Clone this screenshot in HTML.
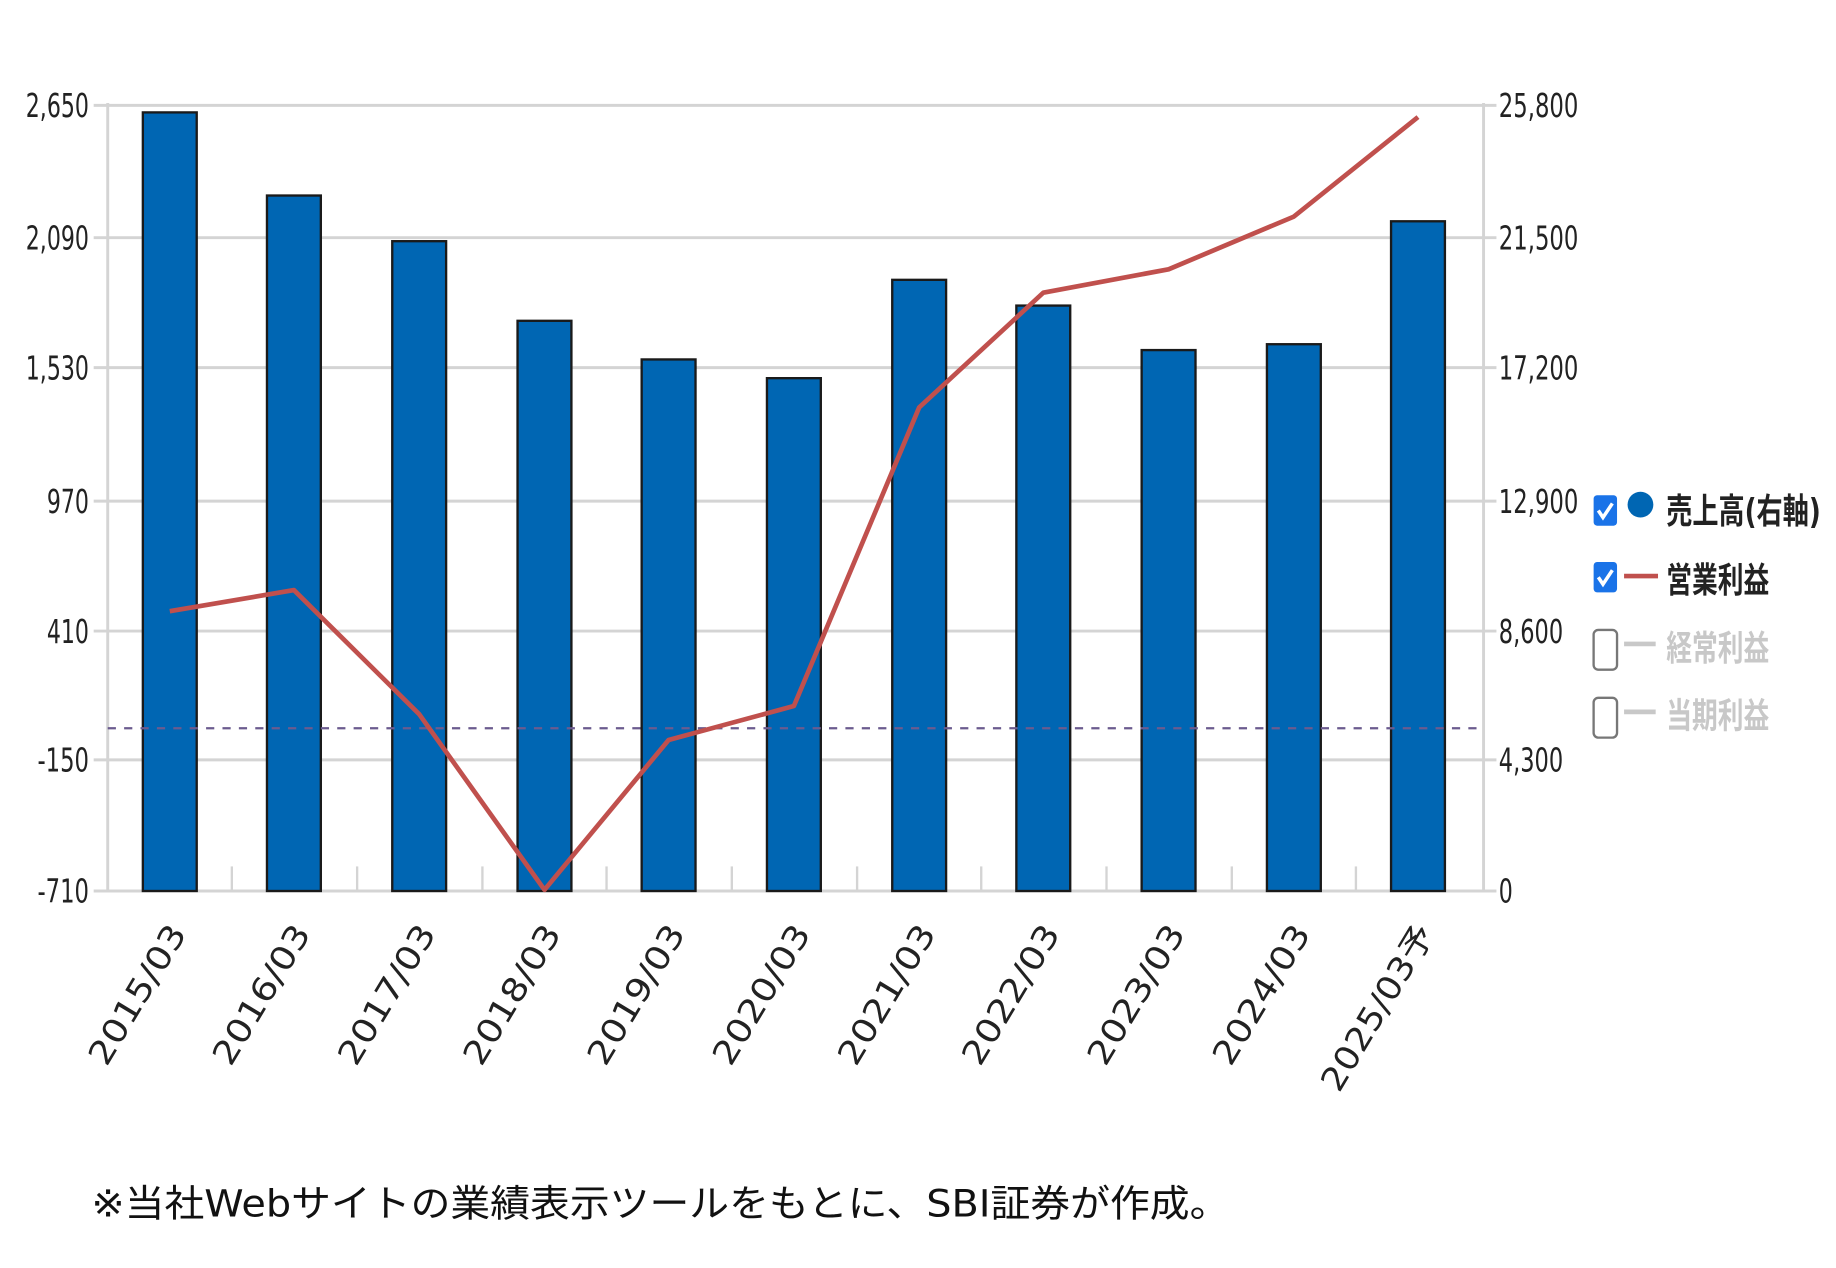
<!DOCTYPE html>
<html><head><meta charset="utf-8"><style>
html,body{margin:0;padding:0;background:#fff;width:1836px;height:1268px;overflow:hidden}
svg{display:block}
text{font-family:"DejaVu Sans","Liberation Sans","Noto Sans CJK JP",sans-serif}
</style></head><body>
<svg width="1836" height="1268" viewBox="0 0 1568 1083" preserveAspectRatio="none" xmlns="http://www.w3.org/2000/svg">
<rect width="1568" height="1083" fill="#fff"/>
<g stroke="#d4d4d4" stroke-width="2.5">
<line x1="80" y1="90" x2="1278" y2="90"/>
<line x1="80" y1="203" x2="1278" y2="203"/>
<line x1="80" y1="314" x2="1278" y2="314"/>
<line x1="80" y1="428" x2="1278" y2="428"/>
<line x1="80" y1="539" x2="1278" y2="539"/>
<line x1="80" y1="649" x2="1278" y2="649"/>
<line x1="80" y1="761" x2="1278" y2="761"/>
<line x1="92" y1="88" x2="92" y2="761"/>
<line x1="1267" y1="88" x2="1267" y2="761"/>
</g>
<g stroke="#d4d4d4" stroke-width="2">
<line x1="198" y1="740" x2="198" y2="761"/><line x1="305" y1="740" x2="305" y2="761"/>
<line x1="412" y1="740" x2="412" y2="761"/><line x1="518" y1="740" x2="518" y2="761"/>
<line x1="625" y1="740" x2="625" y2="761"/><line x1="732" y1="740" x2="732" y2="761"/>
<line x1="838" y1="740" x2="838" y2="761"/><line x1="945" y1="740" x2="945" y2="761"/>
<line x1="1052" y1="740" x2="1052" y2="761"/><line x1="1158" y1="740" x2="1158" y2="761"/>
</g>
<g fill="#0066b3" stroke="#1a1a1a" stroke-width="2">
<rect x="122" y="96" width="46" height="665"/>
<rect x="228" y="167" width="46" height="594"/>
<rect x="335" y="206" width="46" height="555"/>
<rect x="442" y="274" width="46" height="487"/>
<rect x="548" y="307" width="46" height="454"/>
<rect x="655" y="323" width="46" height="438"/>
<rect x="762" y="239" width="46" height="522"/>
<rect x="868" y="261" width="46" height="500"/>
<rect x="975" y="299" width="46" height="462"/>
<rect x="1082" y="294" width="46" height="467"/>
<rect x="1188" y="189" width="46" height="572"/>
</g>
<line x1="92" y1="622" x2="1267" y2="622" stroke="#6b5b8f" stroke-width="2" stroke-dasharray="7,7"/>
<polyline fill="none" stroke="#c0504d" stroke-width="4" stroke-linejoin="round" points="145,522 251,504 358,610 465,760 571,632 678,603 785,348 891,250 998,230 1105,185 1211,100"/>
<g font-size="28" fill="#222" lengthAdjust="spacingAndGlyphs">
<text x="22" y="100" textLength="54" lengthAdjust="spacingAndGlyphs">2,650</text>
<text x="22" y="213" textLength="54" lengthAdjust="spacingAndGlyphs">2,090</text>
<text x="22" y="324" textLength="54" lengthAdjust="spacingAndGlyphs">1,530</text>
<text x="40" y="438" textLength="36" lengthAdjust="spacingAndGlyphs">970</text>
<text x="40" y="549" textLength="36" lengthAdjust="spacingAndGlyphs">410</text>
<text x="32" y="659" textLength="44" lengthAdjust="spacingAndGlyphs">-150</text>
<text x="32" y="771" textLength="44" lengthAdjust="spacingAndGlyphs">-710</text>
</g>
<g font-size="28" fill="#222">
<text x="1280" y="100" textLength="68" lengthAdjust="spacingAndGlyphs">25,800</text>
<text x="1280" y="213" textLength="68" lengthAdjust="spacingAndGlyphs">21,500</text>
<text x="1280" y="324" textLength="68" lengthAdjust="spacingAndGlyphs">17,200</text>
<text x="1280" y="438" textLength="68" lengthAdjust="spacingAndGlyphs">12,900</text>
<text x="1280" y="549" textLength="55" lengthAdjust="spacingAndGlyphs">8,600</text>
<text x="1280" y="659" textLength="55" lengthAdjust="spacingAndGlyphs">4,300</text>
<text x="1280" y="771" textLength="12" lengthAdjust="spacingAndGlyphs">0</text>
</g>
<g font-size="28" fill="#222" text-anchor="end">
<text transform="translate(160,797) rotate(-59)" textLength="134" lengthAdjust="spacingAndGlyphs">2015/03</text>
<text transform="translate(266,797) rotate(-59)" textLength="134" lengthAdjust="spacingAndGlyphs">2016/03</text>
<text transform="translate(373,797) rotate(-59)" textLength="134" lengthAdjust="spacingAndGlyphs">2017/03</text>
<text transform="translate(480,797) rotate(-59)" textLength="134" lengthAdjust="spacingAndGlyphs">2018/03</text>
<text transform="translate(586,797) rotate(-59)" textLength="134" lengthAdjust="spacingAndGlyphs">2019/03</text>
<text transform="translate(693,797) rotate(-59)" textLength="134" lengthAdjust="spacingAndGlyphs">2020/03</text>
<text transform="translate(800,797) rotate(-59)" textLength="134" lengthAdjust="spacingAndGlyphs">2021/03</text>
<text transform="translate(906,797) rotate(-59)" textLength="134" lengthAdjust="spacingAndGlyphs">2022/03</text>
<text transform="translate(1013,797) rotate(-59)" textLength="134" lengthAdjust="spacingAndGlyphs">2023/03</text>
<text transform="translate(1120,797) rotate(-59)" textLength="134" lengthAdjust="spacingAndGlyphs">2024/03</text>
<text transform="translate(1226,797) rotate(-59)" textLength="160" lengthAdjust="spacingAndGlyphs">2025/03予</text>
</g>
<!-- legend -->
<rect x="1361" y="423" width="20" height="26" rx="3" fill="#1a73e8"/>
<path d="M1365 436 l4 6 l8 -12" stroke="#fff" stroke-width="3" fill="none"/>
<circle cx="1401" cy="431" r="11" fill="#0066b3"/>
<text x="1423" y="447" font-size="30" fill="#222" font-family="'Noto Sans CJK JP',sans-serif" font-weight="bold" textLength="132" lengthAdjust="spacingAndGlyphs">売上高(右軸)</text>
<rect x="1361" y="480" width="20" height="26" rx="3" fill="#1a73e8"/>
<path d="M1365 493 l4 6 l8 -12" stroke="#fff" stroke-width="3" fill="none"/>
<line x1="1387" y1="492" x2="1416" y2="492" stroke="#c0504d" stroke-width="4"/>
<text x="1423" y="506" font-size="30" fill="#222" font-family="'Noto Sans CJK JP',sans-serif" font-weight="bold" textLength="88" lengthAdjust="spacingAndGlyphs">営業利益</text>
<rect x="1361" y="538" width="20" height="34" rx="4" fill="#fff" stroke="#777" stroke-width="2"/>
<line x1="1387" y1="550" x2="1414" y2="550" stroke="#c8c8c8" stroke-width="4"/>
<text x="1423" y="564" font-size="30" fill="#c8c8c8" font-family="'Noto Sans CJK JP',sans-serif" font-weight="bold" textLength="88" lengthAdjust="spacingAndGlyphs">経常利益</text>
<rect x="1361" y="596" width="20" height="34" rx="4" fill="#fff" stroke="#777" stroke-width="2"/>
<line x1="1387" y1="608" x2="1414" y2="608" stroke="#c8c8c8" stroke-width="4"/>
<text x="1423" y="622" font-size="30" fill="#c8c8c8" font-family="'Noto Sans CJK JP',sans-serif" font-weight="bold" textLength="88" lengthAdjust="spacingAndGlyphs">当期利益</text>
<text x="78" y="1039" font-size="32" fill="#111" font-family="'Liberation Sans','Noto Sans CJK JP',sans-serif" textLength="972" lengthAdjust="spacingAndGlyphs">※当社Webサイトの業績表示ツールをもとに、SBI証券が作成。</text>
</svg>
</body></html>
